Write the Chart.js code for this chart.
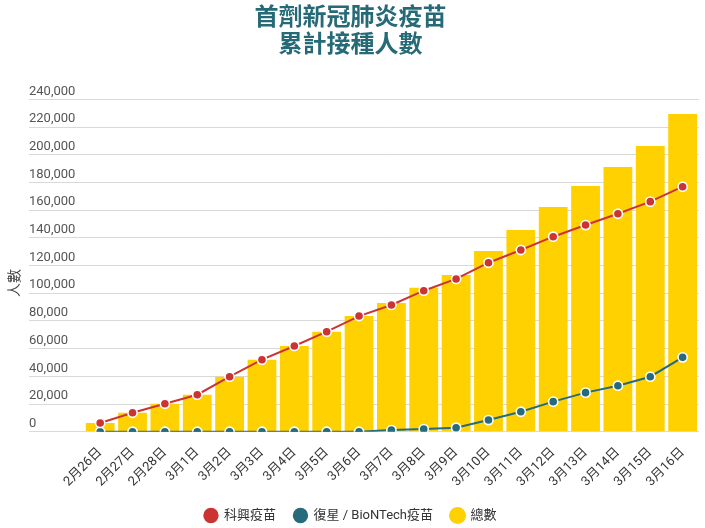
<!DOCTYPE html>
<html>
<head>
<meta charset="utf-8">
<script src="https://cdn.jsdelivr.net/npm/chart.js@4.4.0/dist/chart.umd.min.js"></script>
<style>
  html, body { margin: 0; padding: 0; background: #fff; }
  #wrap { width: 705px; height: 528px; position: relative; }
</style>
</head>
<body>
<div id="wrap"><canvas id="vaccineChart"></canvas></div>
<script>
// 日期
const dates = ['2月26日', '2月27日', '2月28日', '3月1日', '3月2日', '3月3日', '3月4日', '3月5日',
  '3月6日', '3月7日', '3月8日', '3月9日', '3月10日', '3月11日', '3月12日', '3月13日',
  '3月14日', '3月15日', '3月16日'];

// 科興
const sinovac = [6300, 13700, 20200, 26700, 39700, 52000, 61900, 72200, 83500, 91500,
  101800, 110300, 122000, 131200, 140800, 149200, 157400, 166100, 176900];

// 復星 / BioNTech
const biontech = [0, 0, 0, 0, 0, 0, 0, 0, 0, 1200,
  1900, 2900, 8400, 14400, 21700, 28200, 33200, 39700, 53700];

// 總數
const totals = [6300, 13600, 20200, 26700, 39700, 52000, 61900, 72200, 83500, 93000,
  104000, 113100, 130500, 145600, 162200, 177400, 191100, 206300, 229400];

const yTicks = [0, 20000, 40000, 60000, 80000, 100000, 120000, 140000, 160000, 180000, 200000, 220000, 240000];

Chart.defaults.font.family = 'Roboto, "Noto Sans CJK TC", sans-serif';
Chart.defaults.color = '#333';

// y axis title drawn by hand, sits a bit below the middle like the original
const yTitle = {
    id: 'yTitle',
    afterDraw(chart) {
        const { ctx, chartArea } = chart;
        ctx.save();
        ctx.translate(14, chartArea.top + chartArea.height * 0.553);
        ctx.rotate(-Math.PI / 2);
        ctx.font = '14px "Noto Sans CJK TC"';
        ctx.fillStyle = '#444';
        ctx.textAlign = 'center';
        ctx.textBaseline = 'middle';
        ctx.fillText('人數', 0, 0);
        ctx.restore();
    }
};

const ctx = document.getElementById('vaccineChart').getContext('2d');
const vaccineChart = new Chart(ctx, {
    type: 'bar',
    data: {
        labels: dates,
        datasets: [
            {
                type: 'line',
                label: '科興疫苗',
                data: sinovac,
                borderColor: '#cc3333',
                backgroundColor: '#cc3333',
                borderWidth: 2,
                tension: 0,
                pointRadius: 4.6,
                pointBorderWidth: 1.6,
                pointBorderColor: '#ffffff',
                pointBackgroundColor: '#cc3333'
            },
            {
                type: 'line',
                label: '復星 / BioNTech疫苗',
                data: biontech,
                borderColor: '#256b7c',
                backgroundColor: '#256b7c',
                borderWidth: 2,
                tension: 0,
                pointRadius: 4.6,
                pointBorderWidth: 1.6,
                pointBorderColor: '#ffffff',
                pointBackgroundColor: '#256b7c'
            },
            {
                label: '總數',
                data: totals,
                backgroundColor: '#ffd100',
                borderWidth: 0,
                barPercentage: 0.89,
                categoryPercentage: 1
            }
        ]
    },
    options: {
        responsive: true,
        maintainAspectRatio: false,
        animation: false,
        layout: {
            padding: { left: 0, right: 4, top: 0, bottom: 0 }
        },
        plugins: {
            title: {
                display: true,
                text: ['首劑新冠肺炎疫苗', '累計接種人數'],
                color: '#266a78',
                font: { size: 24, weight: 'bold', family: '"Noto Sans CJK TC", sans-serif', lineHeight: 1.1 },
                padding: { top: 3, bottom: 43.5 }
            },
            legend: {
                position: 'bottom',
                maxHeight: 37,
                labels: {
                    usePointStyle: true,
                    boxHeight: 12,
                    padding: 18,
                    color: '#333',
                    font: { size: 13 }
                }
            },
            tooltip: { enabled: false }
        },
        scales: {
            x: {
                grid: { display: false },
                border: { display: false },
                ticks: {
                    autoSkip: false,
                    maxRotation: 45,
                    minRotation: 45,
                    padding: 5,
                    color: '#333',
                    font: { size: 13 }
                },
                afterFit(scale) { scale.height = 59.3; }
            },
            y: {
                min: 0,
                max: 240000,
                afterBuildTicks(scale) {
                    scale.ticks = yTicks.map(v => ({ value: v }));
                },
                border: { display: false },
                grid: {
                    color: '#d9d9d9',
                    lineWidth: 1,
                    drawTicks: true,
                    tickLength: 55
                },
                ticks: {
                    mirror: true,
                    padding: -55,
                    labelOffset: -8,
                    color: '#555',
                    font: { size: 13 },
                    callback: v => v.toLocaleString('en-US')
                },
                afterFit(scale) { scale.width = 84; }
            }
        }
    },
    plugins: [yTitle]
});
</script>
</body>
</html>
